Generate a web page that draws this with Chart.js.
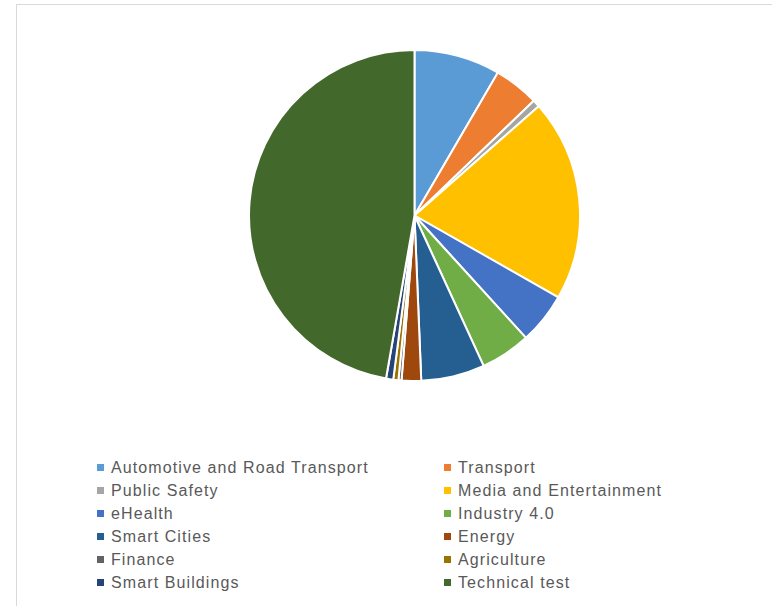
<!DOCTYPE html>
<html>
<head>
<meta charset="utf-8">
<script src="https://cdn.jsdelivr.net/npm/chart.js@4"></script>
<style>
    body { margin: 0; background: #fff; width: 772px; height: 606px; overflow: hidden; position: relative; }
    #frame { position: absolute; left: 16px; top: 4px; width: 800px; height: 700px; border: 1px solid #d9d9d9; }
    #pie-box { position: absolute; left: 248px; top: 49px; width: 333px; height: 333px; }
    #legend { position: absolute; left: 94px; top: 456px; width: 640px; display: grid;
              grid-template-columns: 347px 293px; grid-auto-rows: 23px;
              font-family: "Liberation Sans", Arial, sans-serif; font-size: 16px; color: #595959;
              letter-spacing: 1.1px; }
    .item { display: flex; align-items: center; white-space: nowrap; }
    .swatch { width: 7px; height: 7px; margin-right: 7px; margin-left: 3px; }
</style>
</head>
<body>
<div id="frame"></div>
<div id="pie-box"><canvas id="pie"></canvas></div>
<div id="legend"></div>
<script>
const categories = [
    "Automotive and Road Transport", "Transport", "Public Safety", "Media and Entertainment",
    "eHealth", "Industry 4.0", "Smart Cities", "Energy",
    "Finance", "Agriculture", "Smart Buildings", "Technical test"
];
const shares = [8.4, 4.4, 0.7, 19.7, 5.0, 4.9, 6.2, 1.9, 0.3, 0.5, 0.7, 47.2];
const colors = [
    "#5b9bd5", "#ed7d31", "#a5a5a5", "#ffc000",
    "#4472c4", "#70ad47", "#255e91", "#9e480e",
    "#636363", "#997300", "#264478", "#43682b"
];

const chart = new Chart(document.getElementById("pie"), {
    type: "pie",
    data: {
        labels: categories,
        datasets: [{
            data: shares,
            backgroundColor: colors,
            borderColor: "#ffffff",
            borderWidth: 2,
            hoverOffset: 0
        }]
    },
    options: {
        responsive: true,
        maintainAspectRatio: false,
        animation: false,
        layout: { padding: 0 },
        plugins: {
            legend: { display: false },
            tooltip: { enabled: false }
        }
    }
});

// legend built from the chart's own labels
const legendBox = document.getElementById("legend");
chart.options.plugins.legend.labels.generateLabels(chart).forEach((item) => {
    const row = document.createElement("div");
    row.className = "item";
    const sw = document.createElement("span");
    sw.className = "swatch";
    sw.style.background = item.fillStyle;
    const txt = document.createElement("span");
    txt.textContent = item.text;
    row.appendChild(sw);
    row.appendChild(txt);
    legendBox.appendChild(row);
});
</script>
</body>
</html>
